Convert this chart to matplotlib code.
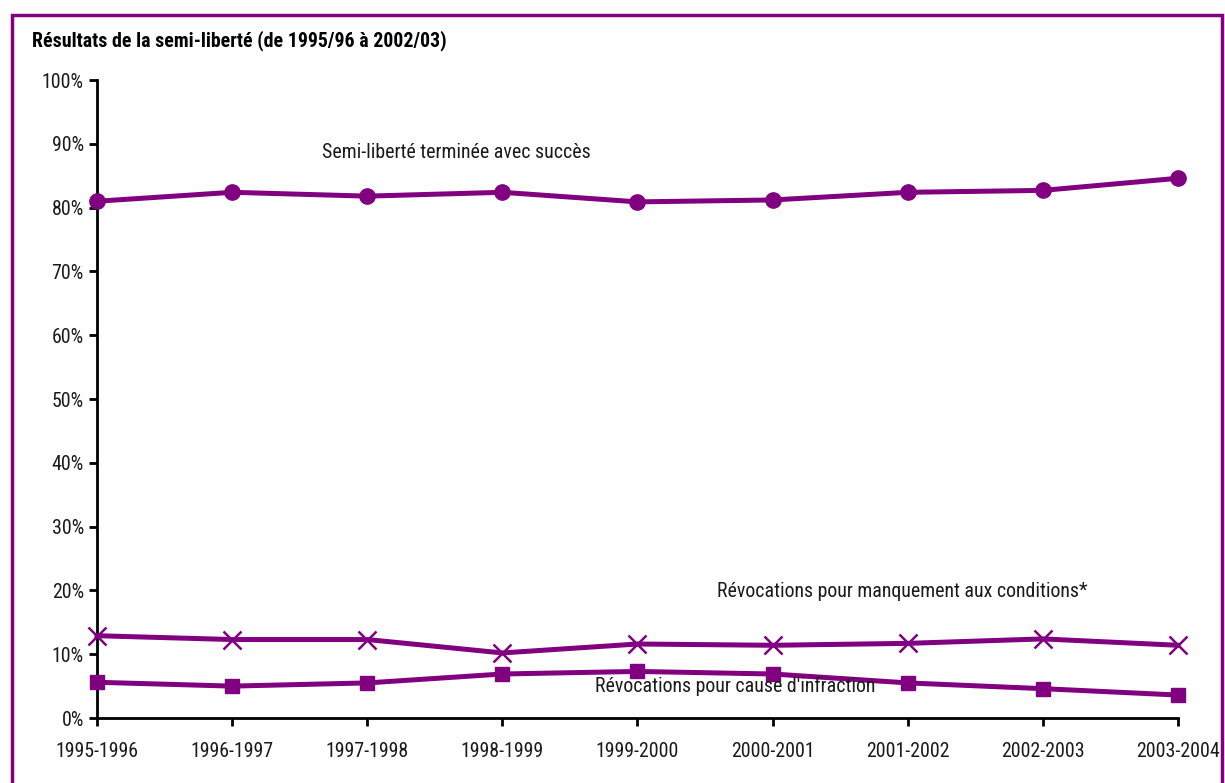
import matplotlib
matplotlib.use("Agg")
import matplotlib.pyplot as plt
from matplotlib import font_manager
from matplotlib.patches import Rectangle

# prefer a narrow sans face if one is installed
candidates = ['Liberation Sans Narrow', 'Roboto Condensed', 'Open Sans Condensed',
              'Noto Sans Display', 'DejaVu Sans Condensed', 'Liberation Sans']
installed = {f.name for f in font_manager.fontManager.ttflist}
narrow = [c for c in candidates if c in installed]
plt.rcParams['font.family'] = narrow + ['DejaVu Sans']
plt.rcParams['font.stretch'] = 'condensed'

years = ['1995-1996', '1996-1997', '1997-1998', '1998-1999', '1999-2000',
         '2000-2001', '2001-2002', '2002-2003', '2003-2004']
succes = [81.0, 82.4, 81.8, 82.4, 80.9, 81.2, 82.4, 82.7, 84.6]
manquement = [12.9, 12.3, 12.3, 10.2, 11.6, 11.4, 11.7, 12.4, 11.4]
infraction = [5.6, 5.0, 5.5, 6.9, 7.3, 6.9, 5.5, 4.6, 3.6]

purple = '#800080'
fs = 14.3

fig = plt.figure(figsize=(12.25, 7.83), dpi=100)
ax = fig.add_axes([0.0792, 0.083, 0.8824, 0.8148])

x = list(range(len(years)))
ax.plot(x, succes, color=purple, lw=3.6, marker='o', ms=11, clip_on=False, zorder=3)
ax.plot(x, manquement, color=purple, lw=3.6, marker='x', ms=13, mew=1.8, clip_on=False, zorder=3)
ax.plot(x, infraction, color=purple, lw=3.6, marker='s', ms=9.5, clip_on=False, zorder=3)

ax.set_xlim(0, len(years) - 1)
ax.set_ylim(0, 100)
ax.set_xticks(x)
ax.set_xticklabels(years)
ax.set_yticks(range(0, 101, 10))
ax.set_yticklabels([f'{v}%' for v in range(0, 101, 10)])
ax.tick_params(axis='both', direction='out', length=6, width=2, labelsize=fs,
               color='black', labelcolor='#1a1a1a')
ax.tick_params(axis='x', pad=11)
for side in ['top', 'right']:
    ax.spines[side].set_visible(False)
for side in ['left', 'bottom']:
    ax.spines[side].set_linewidth(2)

ax.text(2.66, 88.7, 'Semi-liberté terminée avec succès', fontsize=fs,
        ha='center', va='center', color='#1a1a1a')
ax.text(5.96, 19.9, 'Révocations pour manquement aux conditions*', fontsize=fs,
        ha='center', va='center', color='#1a1a1a')
ax.text(4.72, 5.0, "Révocations pour cause d'infraction", fontsize=fs,
        ha='center', va='center', color='#1a1a1a')

fig.text(0.0265, 0.948, 'Résultats de la semi-liberté (de 1995/96 à 2002/03)',
         fontsize=fs, fontweight='bold', va='center')

# outer frame
fig.patches.append(Rectangle((12 / 1225, -0.05), 1210 / 1225, 1.05 - 15 / 783,
                             transform=fig.transFigure, fill=False,
                             edgecolor=purple, lw=2.5))

fig.savefig('out.png', dpi=100)
